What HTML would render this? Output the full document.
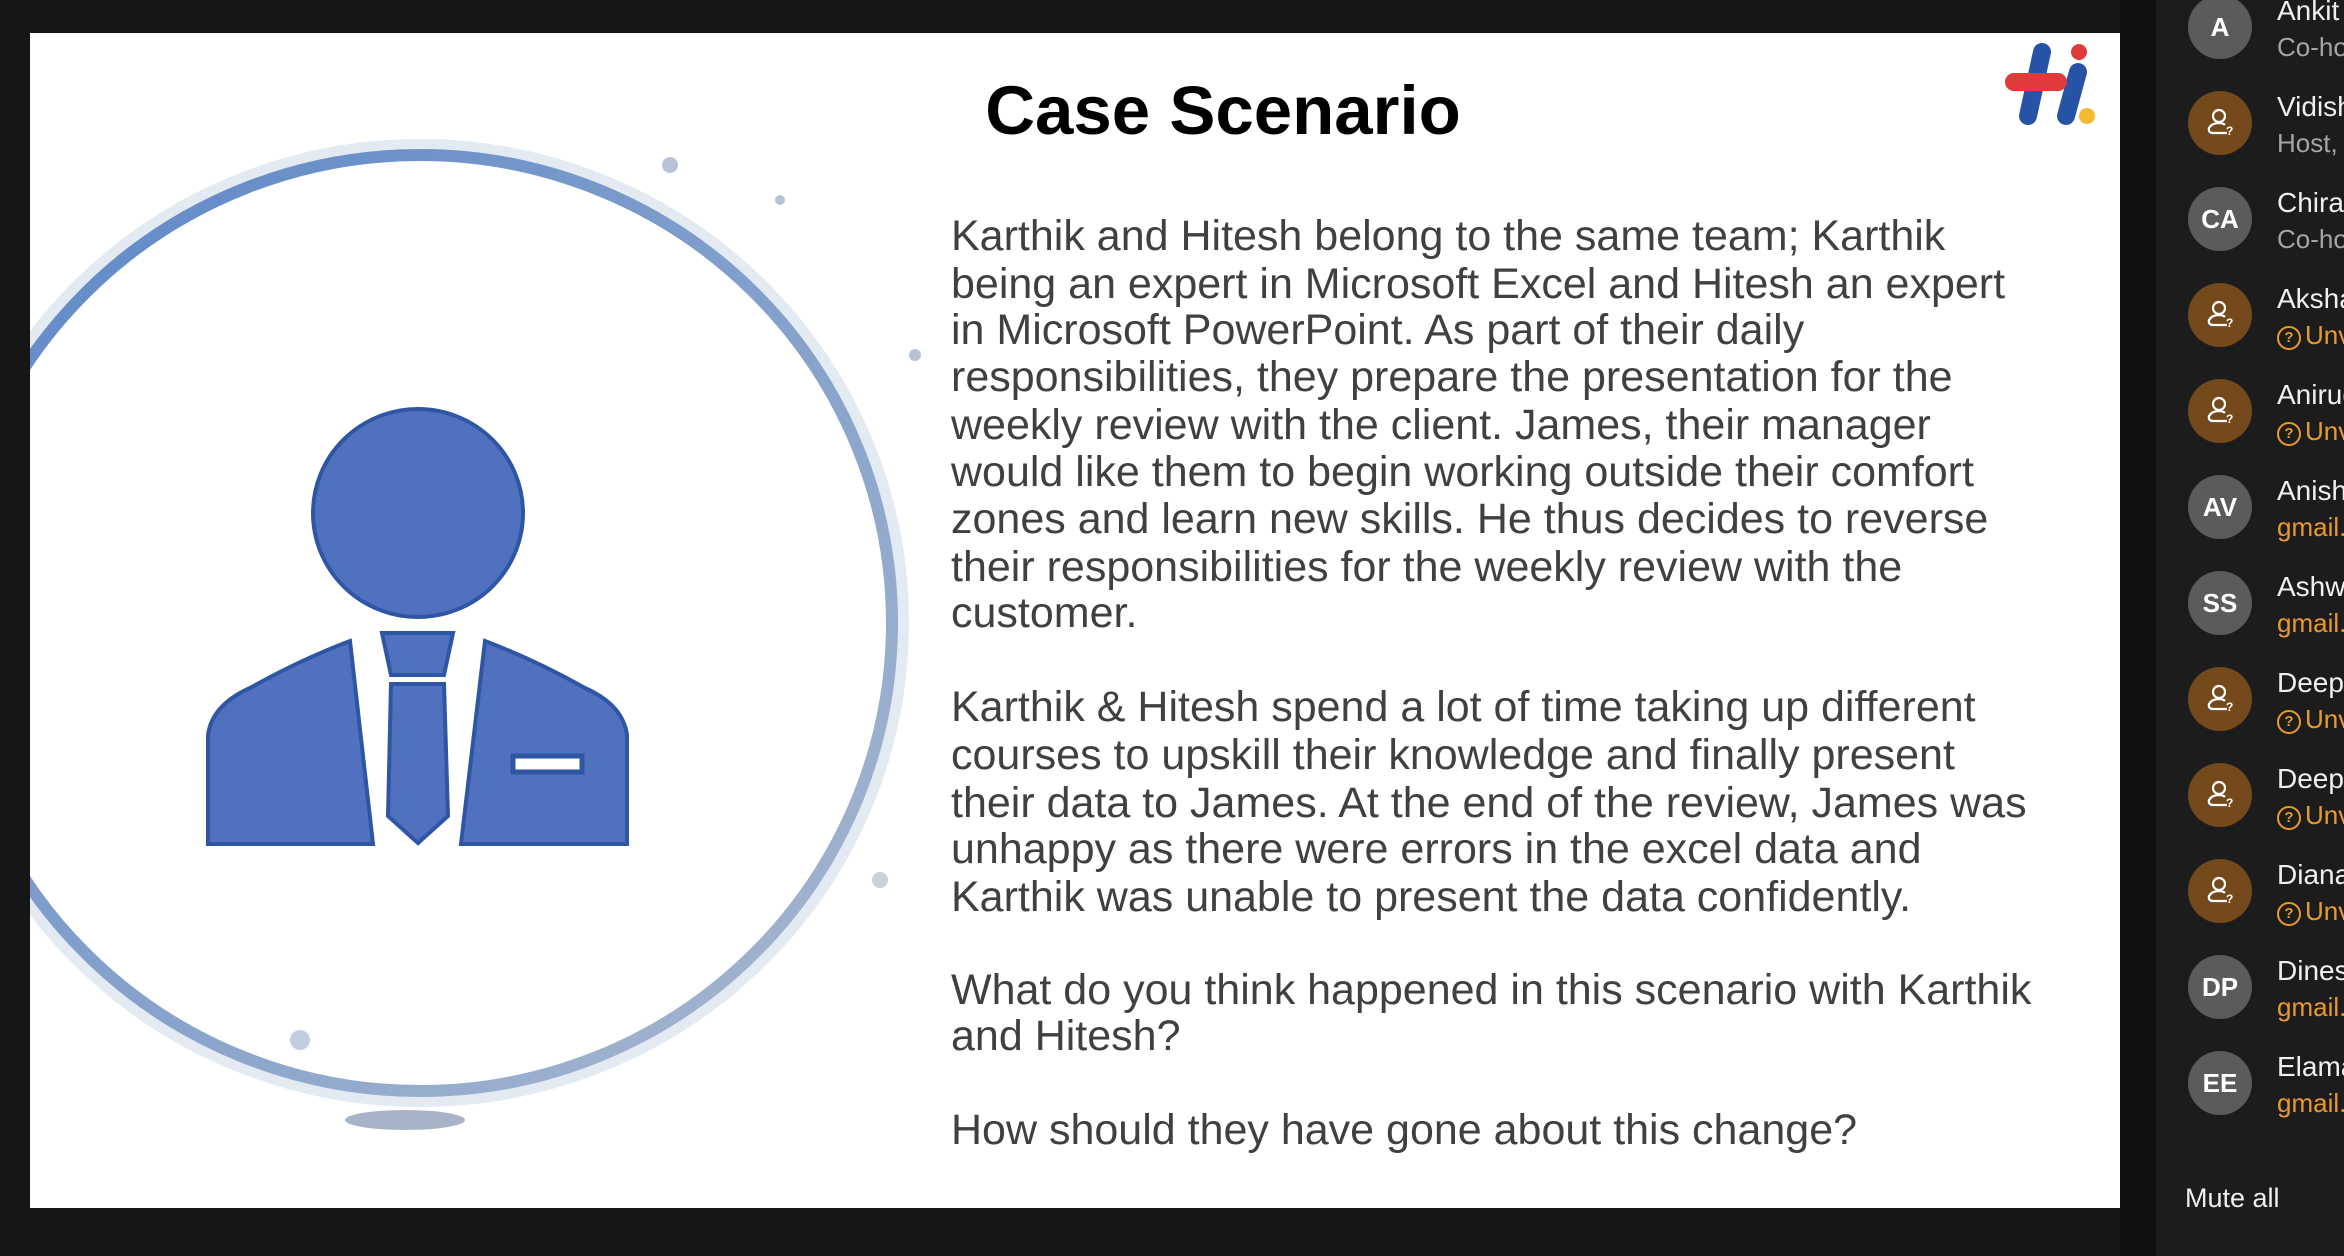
<!DOCTYPE html>
<html><head><meta charset="utf-8">
<style>
html,body{margin:0;padding:0;background:#161616;}
#root{position:relative;width:2344px;height:1256px;overflow:hidden;background:#161616;font-family:"Liberation Sans",sans-serif;}
#slide{position:absolute;left:30px;top:33px;width:2090px;height:1175px;background:#fff;overflow:hidden;}
#title{position:absolute;left:0;width:2386px;top:38px;text-align:center;font-weight:bold;font-size:69px;color:#000;line-height:80px;}
.ln{position:absolute;left:921px;font-size:43px;color:#404040;white-space:nowrap;line-height:48px;}
#panel{position:absolute;left:2156px;top:0;width:188px;height:1256px;background:#1c1c1c;}
#strip{position:absolute;left:2120px;top:0;width:36px;height:1256px;background:#111;}
.av{position:absolute;left:2188px;width:64px;height:64px;border-radius:50%;color:#fff;font-weight:bold;font-size:26px;text-align:center;line-height:64px;}
.gray{background:#5b5b5b;}
.brown{background:#74491c;}
.nm{position:absolute;left:2277px;font-size:28px;color:#f0f0f0;white-space:nowrap;line-height:32px;}
.sub{position:absolute;left:2277px;font-size:26px;white-space:nowrap;line-height:30px;}
</style></head><body>
<div id="root">
<div id="slide">
<svg width="2090" height="1175" style="position:absolute;left:0;top:0">
 <defs>
  <linearGradient id="rg" x1="0" y1="0" x2="1" y2="1">
   <stop offset="0" stop-color="#5b86c8"/><stop offset="1" stop-color="#a9b9cf"/>
  </linearGradient>
 </defs>
 <g transform="translate(-30,-33)">
 <ellipse cx="420" cy="623" rx="480" ry="475" fill="none" stroke="#c9d5e6" stroke-width="18" opacity="0.5"/>
 <ellipse cx="420" cy="623" rx="472" ry="468" fill="#fff" stroke="url(#rg)" stroke-width="12"/>
 <ellipse cx="405" cy="1120" rx="60" ry="10" fill="#a7b3c6"/>
 <circle cx="915" cy="355" r="6" fill="#b7c3d5"/>
 <circle cx="880" cy="880" r="8" fill="#c7d0dd"/>
 <circle cx="670" cy="165" r="8" fill="#b8c4d6"/>
 <circle cx="780" cy="200" r="5" fill="#b8c4d6"/>
 <circle cx="300" cy="1040" r="10" fill="#c2cde0"/>
 <g>
  <ellipse cx="418" cy="513" rx="105" ry="104" fill="#4f71be" stroke="#2f56a5" stroke-width="4"/>
  <path d="M208,844 L208,735 Q212,705 250,688 Q300,660 350,641 L373,844 Z" fill="#4f71be" stroke="#2f56a5" stroke-width="4"/>
  <path d="M627,844 L627,735 Q623,705 585,688 Q535,660 485,641 L461,844 Z" fill="#4f71be" stroke="#2f56a5" stroke-width="4"/>
  <path d="M382,633 L453,633 L444,675 L391,675 Z" fill="#4f71be" stroke="#2f56a5" stroke-width="4"/>
  <path d="M391,684 L444,684 L448,816 L418,843 L388,816 Z" fill="#4f71be" stroke="#2f56a5" stroke-width="4"/>
  <rect x="513" y="756" width="69" height="16" fill="#fff" stroke="#2f56a5" stroke-width="5"/>
 </g>
 <g>
  <line x1="2042" y1="52" x2="2028" y2="116" stroke="#2753a6" stroke-width="18" stroke-linecap="round"/>
  <line x1="2078" y1="72" x2="2066" y2="116" stroke="#2753a6" stroke-width="18" stroke-linecap="round"/>
  <line x1="2014" y1="82" x2="2058" y2="82" stroke="#e03a3a" stroke-width="18" stroke-linecap="round"/>
  <circle cx="2079" cy="52" r="8" fill="#e03a3a"/>
  <circle cx="2087" cy="116" r="8" fill="#f4bb32"/>
 </g>
 </g>
</svg>
<div id="title">Case Scenario</div>
<div>
<div class="ln" style="top:179px">Karthik and Hitesh belong to the same team; Karthik</div>
<div class="ln" style="top:227px">being an expert in Microsoft Excel and Hitesh an expert</div>
<div class="ln" style="top:273px">in Microsoft PowerPoint. As part of their daily</div>
<div class="ln" style="top:320px">responsibilities, they prepare the presentation for the</div>
<div class="ln" style="top:368px">weekly review with the client. James, their manager</div>
<div class="ln" style="top:415px">would like them to begin working outside their comfort</div>
<div class="ln" style="top:462px">zones and learn new skills. He thus decides to reverse</div>
<div class="ln" style="top:510px">their responsibilities for the weekly review with the</div>
<div class="ln" style="top:556px">customer.</div>
<div class="ln" style="top:650px">Karthik &amp; Hitesh spend a lot of time taking up different</div>
<div class="ln" style="top:698px">courses to upskill their knowledge and finally present</div>
<div class="ln" style="top:746px">their data to James. At the end of the review, James was</div>
<div class="ln" style="top:792px">unhappy as there were errors in the excel data and</div>
<div class="ln" style="top:840px">Karthik was unable to present the data confidently.</div>
<div class="ln" style="top:933px">What do you think happened in this scenario with Karthik</div>
<div class="ln" style="top:979px">and Hitesh?</div>
<div class="ln" style="top:1073px">How should they have gone about this change?</div>
</div>
</div>
<div id="strip"></div>
<div id="panel"></div>
<div id="plist"></div>
<div style="position:absolute;left:2185px;top:1183px;font-size:27px;color:#f0f0f0;">Mute all</div>
<script>
const initials=["A","","CA","","","AV","SS","","","","DP","EE"];
const names=["Ankit","Vidisha","Chirag","Akshay","Anirudh","Anish","Ashwin","Deepak","Deepika","Diana","Dinesh","Elamaran"];
const subs=["Co-host","Host, me","Co-host","Unverified","Unverified","gmail.com","gmail.com","Unverified","Unverified","Unverified","gmail.com","gmail.com"];
const root=document.getElementById('plist');
const personSvg='<svg width="40" height="40" viewBox="0 0 40 40" style="margin-top:12px"><circle cx="19" cy="13" r="6" fill="none" stroke="#fff" stroke-width="2.2"/><path d="M27,30 L12,30 Q8,29 9,25 Q12,20 19,20 Q23,20 25,22" fill="none" stroke="#fff" stroke-width="2.2"/><text x="26" y="32" font-size="12" font-weight="bold" fill="#fff" font-family="Liberation Sans,sans-serif">?</text></svg>';
for(let i=0;i<names.length;i++){
 const cy=26.5+96*i;
 const av=document.createElement('div');
 
 
 av.className='av '+(initials[i]?'gray':'brown');
 av.style.top=(cy-32)+'px';
 if(initials[i]) av.textContent=initials[i]; else av.innerHTML=personSvg;
 root.appendChild(av);
 const nm=document.createElement('div');
 
 
 nm.className='nm';
 nm.style.top=(cy-32)+'px';
 nm.textContent=names[i];
 root.appendChild(nm);
 const sb=document.createElement('div');
 
 
 sb.className='sub';
 sb.style.top=(cy+5)+'px';
 const s=subs[i];
 if(s==='Unverified'){sb.style.color='#e89a2c';sb.innerHTML='<span style="display:inline-block;width:20px;height:20px;border:2.5px solid #e89a2c;border-radius:50%;font-size:15px;line-height:20px;text-align:center;font-weight:bold;vertical-align:2px;margin-right:4px">?</span>'+s;}
 else if(s==='gmail.com'){sb.style.color='#e89a2c';sb.textContent=s;}
 else{sb.style.color='#a5a5a5';sb.textContent=s;}
 root.appendChild(sb);
}
</script>
</div>
</body></html>
